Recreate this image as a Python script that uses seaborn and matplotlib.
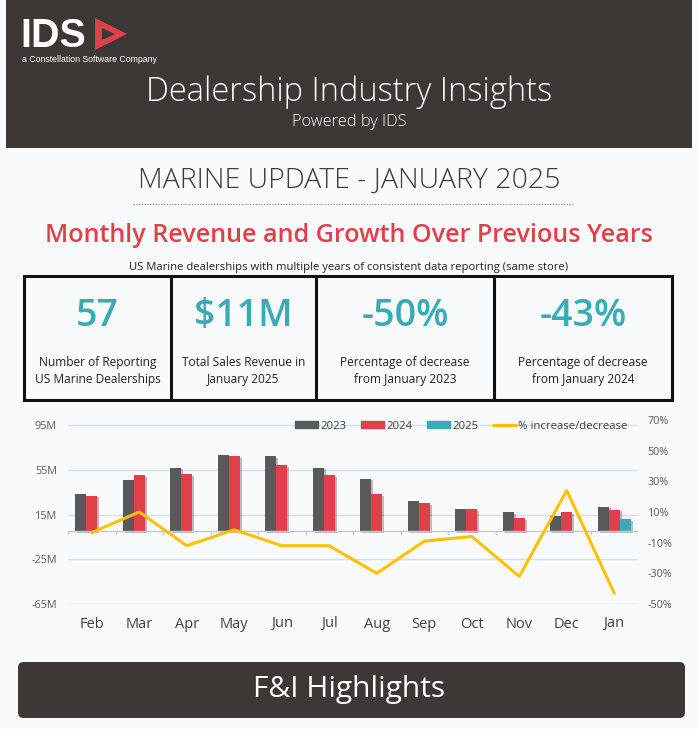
import matplotlib
matplotlib.use("Agg")
import matplotlib.pyplot as plt
import matplotlib.patches as mpatches
import matplotlib.patheffects as pe
from matplotlib.lines import Line2D
import numpy as np
import pandas as pd
import seaborn as sns

# ---------------- data ----------------
months = ['Feb', 'Mar', 'Apr', 'May', 'Jun', 'Jul', 'Aug', 'Sep', 'Oct', 'Nov', 'Dec', 'Jan']
rev_2023 = [33, 46, 57, 68, 67, 57, 47, 27, 20, 17, 13.5, 22]
rev_2024 = [32, 50, 51, 67, 59, 50, 33, 25, 19.5, 11.5, 17, 19.3]
rev_2025_months = ['Jan']
rev_2025 = [11]
pct_change = [-3.4, 10, -12, -1.6, -12, -12, -30, -9, -6, -32, 24, -43]
years = ['2023', '2024', '2025']
left_ticks = [95, 55, 15, -25, -65]
right_ticks = [70, 50, 30, 10, -10, -30, -50]

kpi_values = ['57', '$11M', '-50%', '-43%']
kpi_labels = ['Number of Reporting\nUS Marine Dealerships',
              'Total Sales Revenue in\nJanuary 2025',
              'Percentage of decrease\nfrom January 2023',
              'Percentage of decrease\nfrom January 2024']

# ---------------- style ----------------
W, H = 698, 729
BG = '#f9fafc'
DARK = '#3d3736'
C23, C24, C25 = '#595959', '#e0404a', '#3aabb4'
LINEC = '#ffc000'
TEAL = '#3aabb4'
RED = '#e0404a'

sns.set_theme(style='white')
plt.rcParams['font.family'] = ['Open Sans', 'DejaVu Sans']

fig = plt.figure(figsize=(W / 100, H / 100), dpi=100, facecolor=BG)


def fx(x):
    return x / W


def fy(y):
    return 1 - y / H


def rect(x0, y0, x1, y1, **kw):
    r = mpatches.Rectangle((fx(x0), fy(y1)), fx(x1) - fx(x0), fy(y0) - fy(y1),
                           transform=fig.transFigure, **kw)
    fig.add_artist(r)
    return r


# header band
rect(6, 0, 692, 148, facecolor=DARK, edgecolor='none')
fig.text(fx(20), fy(47), 'IDS', color='white', fontsize=28.5, fontweight='bold',
         family=['Liberation Sans'], va='baseline', ha='left')
# red logo mark
outer = [(95, 18), (127, 34), (95, 50)]
inner = [(102, 28), (115, 34), (102, 40)]
fig.add_artist(mpatches.Polygon([(fx(a), fy(b)) for a, b in outer], closed=True,
                                transform=fig.transFigure, facecolor=RED, edgecolor='none'))
fig.add_artist(mpatches.Polygon([(fx(a), fy(b)) for a, b in inner], closed=True,
                                transform=fig.transFigure, facecolor=DARK, edgecolor='none'))
fig.text(fx(22), fy(60), 'a Constellation Software Company', color='white', fontsize=6.3,
         family=['Liberation Sans'], va='center', ha='left')
fig.text(0.5, fy(92), 'Dealership Industry Insights', color='white', fontsize=23.5,
         fontweight='light', va='center', ha='center')
fig.text(0.5, fy(122), 'Powered by IDS', color='white', fontsize=11.8,
         fontweight='light', va='center', ha='center')

# section titles
fig.text(0.5, fy(181), 'MARINE UPDATE - JANUARY 2025', color='#3d3d3d', fontsize=20.5,
         fontweight='light', va='center', ha='center')
fig.add_artist(Line2D([fx(133), fx(573)], [fy(204), fy(204)], transform=fig.transFigure,
                      color='#7f7f7f', lw=0.8, ls=(0, (1, 1.5))))
fig.text(0.5, fy(236), 'Monthly Revenue and Growth Over Previous Years', color=RED,
         fontsize=18.1, fontweight='semibold', va='center', ha='center')
fig.text(0.5, fy(268), 'US Marine dealerships with multiple years of consistent data reporting (same store)',
         color='#222222', fontsize=8.1, va='center', ha='center')

# KPI boxes
bx = [24, 171, 316, 494, 672]
rect(bx[0], 276, bx[-1], 400, facecolor='#f9fafc', edgecolor='#111111', lw=2.2)
for xd in bx[1:-1]:
    fig.add_artist(Line2D([fx(xd), fx(xd)], [fy(276), fy(400)], transform=fig.transFigure,
                          color='#111111', lw=2.2))
for i in range(4):
    cx = (bx[i] + bx[i + 1]) / 2
    fig.text(fx(cx), fy(316), kpi_values[i], color=TEAL, fontsize=27, fontweight='semibold',
             va='center', ha='center')
    fig.text(fx(cx), fy(371), kpi_labels[i], color='#222222', fontsize=8.6,
             va='center', ha='center', linespacing=1.45)

# ---------------- chart ----------------
ax = fig.add_axes([fx(68), fy(604), fx(638) - fx(68), fy(420) - fy(604)])
ax.set_facecolor(BG)

df = pd.concat([
    pd.DataFrame({'month': months, 'year': '2023', 'rev': rev_2023}),
    pd.DataFrame({'month': months, 'year': '2024', 'rev': rev_2024}),
    pd.DataFrame({'month': rev_2025_months, 'year': '2025', 'rev': rev_2025}),
], ignore_index=True)

sns.barplot(data=df, x='month', y='rev', hue='year', order=months, hue_order=years,
            palette=[C23, C24, C25], width=0.7, ax=ax, legend=False, saturation=1,
            edgecolor='none')
for p in ax.patches:
    p.set_path_effects([pe.SimplePatchShadow(offset=(1.5, -1.2), shadow_rgbFace='#000000', alpha=0.25),
                        pe.Normal()])

ax.set_xlim(-0.5, 11.5)
ax.set_ylim(-65, 99.5)
ax.set_yticks(left_ticks)
ax.set_yticklabels([f'{v}M' for v in left_ticks])
for v in left_ticks:
    ax.axhline(v, color='#d5dcec', lw=1, zorder=0)
ax.axhline(0, color='#c8c8c8', lw=1, zorder=1)
for b in np.arange(-0.5, 12, 1):
    ax.plot([b, b], [0, -2.6], color='#c8c8c8', lw=1, zorder=1)
ax.tick_params(axis='y', length=0, pad=8, labelsize=7.8, labelcolor='#595959')
ax.tick_params(axis='x', length=0, pad=9, labelsize=10.5, labelcolor='#404040')
ax.set_xlabel('')
ax.set_ylabel('')
for s in ax.spines.values():
    s.set_visible(False)

ax2 = ax.twinx()
line_df = pd.DataFrame({'pos': np.arange(len(months)), 'pct': pct_change})
sns.lineplot(data=line_df, x='pos', y='pct', color=LINEC, lw=2.2, ax=ax2)
ax2.set_ylim(-50, 70)
ax2.set_yticks(right_ticks)
ax2.set_yticklabels([f'{v}%' for v in right_ticks])
ax2.tick_params(axis='y', length=0, pad=7, labelsize=7.8, labelcolor='#595959')
ax2.set_xlabel('')
ax2.set_ylabel('')
ax2.grid(False)
for s in ax2.spines.values():
    s.set_visible(False)
ax.set_xlim(-0.5, 11.5)

handles = [mpatches.Patch(color=C23, label='2023'),
           mpatches.Patch(color=C24, label='2024'),
           mpatches.Patch(color=C25, label='2025'),
           Line2D([0], [0], color=LINEC, lw=2.2, label='% increase/decrease')]
leg = ax2.legend(handles=handles, ncol=4, frameon=False, loc='center right',
                 bbox_to_anchor=(1.0, 0.967), fontsize=8.2, handlelength=2.0, handleheight=0.45,
                 handletextpad=0.2, columnspacing=1.3, labelcolor='#404040')

# F&I banner
fb = mpatches.FancyBboxPatch((fx(18), fy(718)), fx(685) - fx(18), fy(662) - fy(718),
                             boxstyle='round,pad=0,rounding_size=0.008', transform=fig.transFigure,
                             facecolor=DARK, edgecolor='none')
fig.add_artist(fb)
fig.text(0.5, fy(690), 'F&I Highlights', color='white', fontsize=21.5, va='center', ha='center')

fig.savefig('out.png', dpi=100, facecolor=BG)
